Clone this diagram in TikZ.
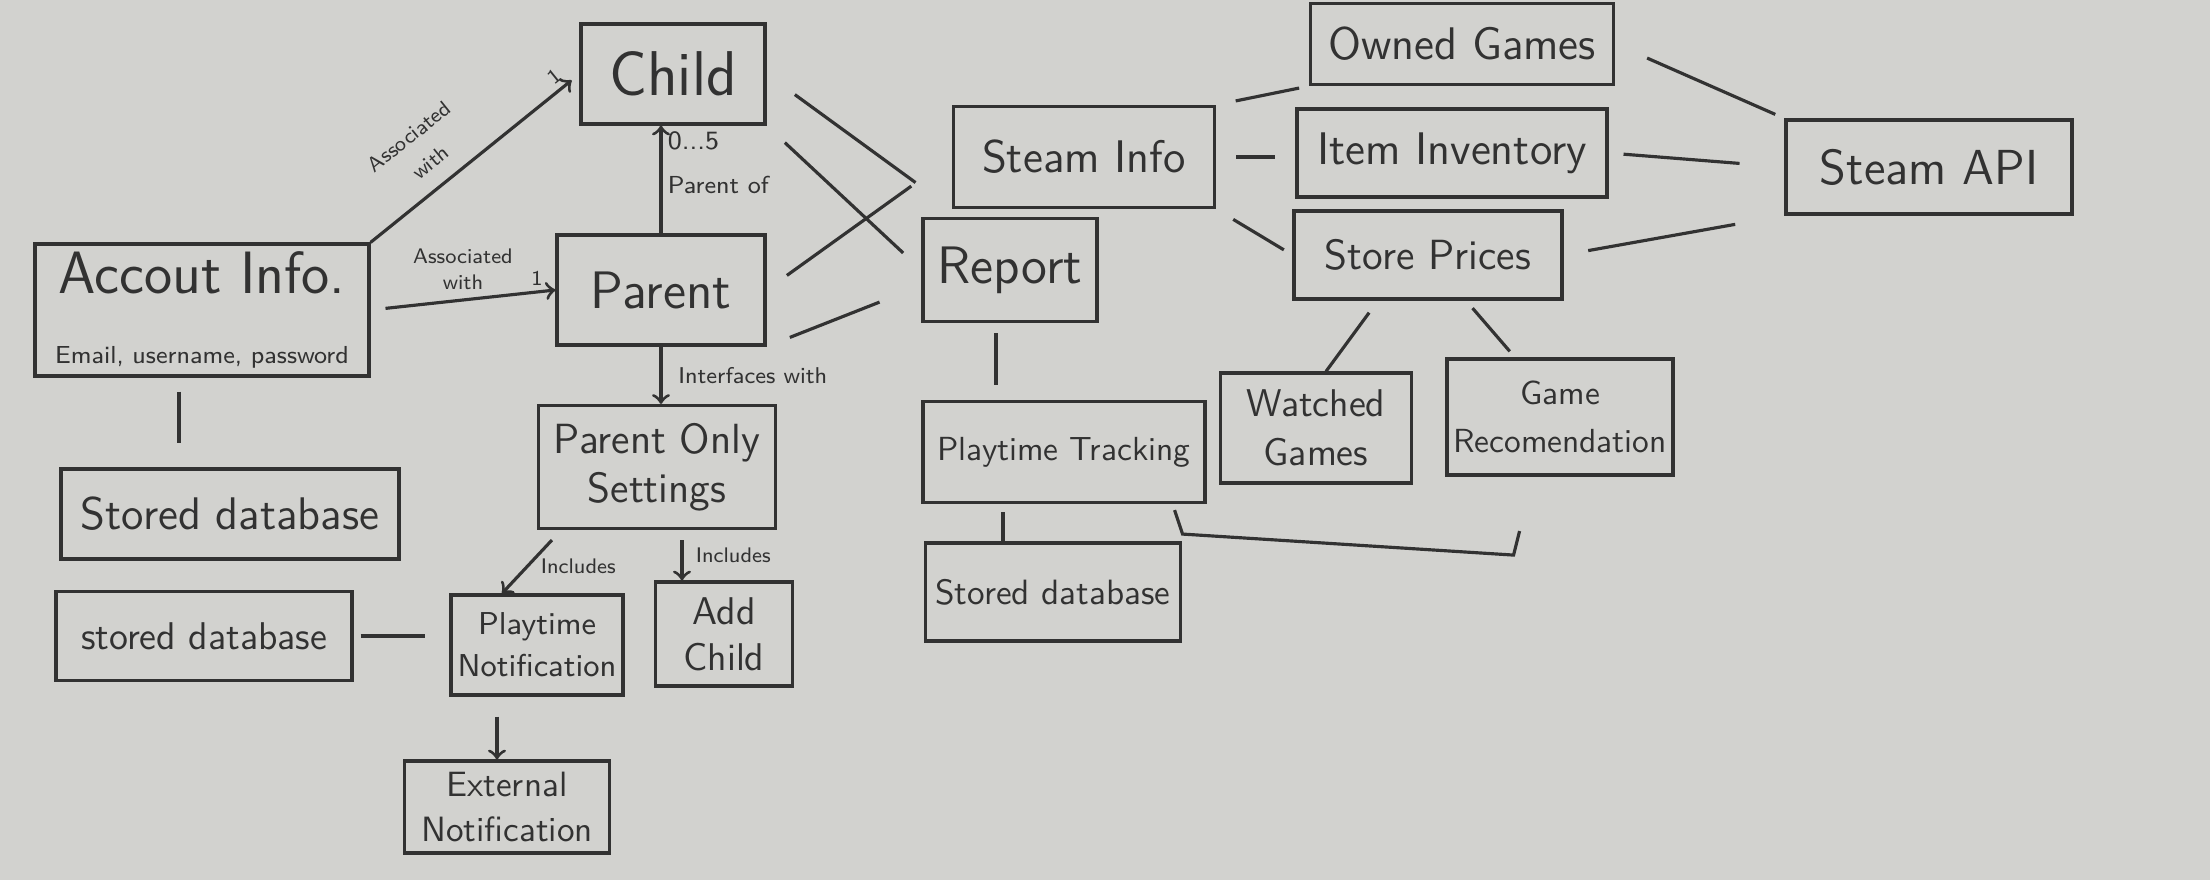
\documentclass[tikz,border=0pt]{standalone}
\definecolor{board}{RGB}{210,210,207}
\definecolor{ink}{RGB}{50,50,50}
\newcommand{\fs}[1]{\fontsize{#1}{#1}\selectfont}

\begin{document}
\begin{tikzpicture}[
    box/.style={draw=ink, line width=0.9pt, text=ink, align=center, inner sep=0pt},
    link/.style={draw=ink, line width=0.9pt},
    lbl/.style={text=ink, font=\sffamily\fontsize{6}{7.5}\selectfont, align=center, inner sep=1.5pt}
]
\fill[board] (0,0) rectangle (22.1,8.8);

% left part: accounts and settings
\node[box, minimum width=1.84cm, minimum height=1.0cm, font=\sffamily\fs{18}] (child) at (6.73,8.06) {Child};
\node[box, minimum width=3.34cm, minimum height=1.32cm, font=\sffamily\fs{17}] (acct) at (2.02,5.70) {Accout Info.\\[3pt]{\fs{7}Email, username, password}};
\node[box, minimum width=2.08cm, minimum height=1.1cm, font=\sffamily\fs{15}] (parent) at (6.61,5.90) {Parent};
\node[box, minimum width=3.38cm, minimum height=0.9cm, font=\sffamily\fs{13}] (dbleft) at (2.30,3.66) {Stored database};
\node[box, minimum width=2.37cm, minimum height=1.23cm, font=\sffamily\fs{12}] (settings) at (6.57,4.13) {Parent Only\\[2pt]Settings};
\node[box, minimum width=2.96cm, minimum height=0.89cm, font=\sffamily\fs{11}] (dbsmall) at (2.04,2.44) {stored database};
\node[box, minimum width=1.72cm, minimum height=1.0cm, font=\sffamily\fs{9}] (notif) at (5.37,2.35) {Playtime\\[3pt]Notification};
\node[box, minimum width=1.37cm, minimum height=1.04cm, font=\sffamily\fs{11}] (addchild) at (7.24,2.46) {Add\\[2pt]Child};
\node[box, minimum width=2.05cm, minimum height=0.92cm, font=\sffamily\fs{10}] (ext) at (5.07,0.73) {External\\[3pt]Notification};

% right part: report and steam data
\node[box, minimum width=2.61cm, minimum height=1.01cm, font=\sffamily\fs{13}] (steam) at (10.84,7.23) {Steam Info};
\node[box, minimum width=1.74cm, minimum height=1.03cm, font=\sffamily\fs{15}] (report) at (10.10,6.10) {Report};
\node[box, minimum width=2.82cm, minimum height=1.01cm, font=\sffamily\fs{9.5}] (track) at (10.64,4.28) {Playtime Tracking};
\node[box, minimum width=2.55cm, minimum height=0.98cm, font=\sffamily\fs{10}] (dbright) at (10.53,2.88) {Stored database};
\node[box, minimum width=3.03cm, minimum height=0.81cm, font=\sffamily\fs{13}] (owned) at (14.62,8.36) {Owned Games};
\node[box, minimum width=3.10cm, minimum height=0.88cm, font=\sffamily\fs{13}] (item) at (14.52,7.27) {Item Inventory};
\node[box, minimum width=2.68cm, minimum height=0.88cm, font=\sffamily\fs{12}] (store) at (14.28,6.25) {Store Prices};
\node[box, minimum width=2.86cm, minimum height=0.94cm, font=\sffamily\fs{14}] (api) at (19.29,7.13) {Steam API};
\node[box, minimum width=1.91cm, minimum height=1.10cm, font=\sffamily\fs{11}] (watched) at (13.16,4.52) {Watched\\[3pt]Games};
\node[box, minimum width=2.26cm, minimum height=1.16cm, font=\sffamily\fs{9.5}] (reco) at (15.60,4.63) {Game\\[4pt]Recomendation};

\draw[link, ->, shorten >=1mm] (acct.north east) -- (child.west)
    node[lbl, pos=0.36, above=3pt, sloped, font=\sffamily\fontsize{6}{9.5}\selectfont] {Associated\\with}
    node[lbl, pos=0.92, above, sloped] {1};
\draw[link, ->, shorten <=1.5mm] (acct.east) -- (parent.west)
    node[lbl, midway, above=1pt] {Associated\\with}
    node[lbl, pos=0.9, above] {1};
\draw[link, ->] (parent.north) -- (parent.north |- child.south)
    node[lbl, pos=0.86, right, font=\sffamily\fs{7.5}] {0...5}
    node[lbl, pos=0.45, right, font=\sffamily\fs{7}] {Parent of};
\draw[link, ->] (parent.south) -- (parent.south |- settings.north)
    node[lbl, midway, right=3pt, font=\sffamily\fs{6.5}] {Interfaces with};
\draw[link, ->] ([xshift=1.5mm, yshift=-1mm]settings.south west) -- ([xshift=-3.5mm]notif.north)
    node[lbl, midway, right=2pt] {Includes};
\draw[link, ->, shorten <=1mm] ([xshift=2.5mm]settings.south) -- ([xshift=2.5mm]settings.south |- addchild.north)
    node[lbl, midway, right=2pt] {Includes};
\draw[link, ->, shorten <=2mm] ([xshift=-4mm]notif.south) -- ([xshift=-4mm]notif.south |- ext.north);
\draw[link, shorten <=0.7mm, shorten >=2.4mm] (dbsmall.east) -- (dbsmall.east -| notif.west);
\draw[link, shorten <=1.4mm, shorten >=2.4mm] ([xshift=-2.3mm]acct.south) -- ([xshift=-2.3mm]acct.south |- dbleft.north);

\draw[link, shorten <=3.5mm, shorten >=4.5mm] (child.east) -- (steam.south west);
\draw[link, shorten <=2.5mm, shorten >=2.5mm] (child.south east) -- (report.west);
\draw[link, shorten <=2.5mm, shorten >=5mm] (parent.east) -- (steam.west);
\draw[link, shorten <=2.5mm, shorten >=4.5mm] (parent.south east) -- (report.190);
\draw[link, shorten <=1mm, shorten >=1.5mm] ([xshift=-1.4mm]report.south) -- ([xshift=-1.4mm]report.south |- track.north);
\draw[link, shorten <=0.8mm] ([xshift=-5mm]dbright.north |- track.south) -- ([xshift=-5mm]dbright.north);

\draw[link, shorten <=2mm, shorten >=1mm] (steam.north east) -- (owned.south west);
\draw[link, shorten <=2mm, shorten >=2mm] (steam.east) -- (steam.east -| item.west);
\draw[link, shorten <=2mm, shorten >=1mm] (steam.south east) -- (store.west);
\draw[link, shorten <=3.5mm, shorten >=1mm] (owned.east) -- (api.north west);
\draw[link, shorten <=1.5mm, shorten >=4.5mm] (item.east) -- (api.west);
\draw[link, shorten <=2.5mm, shorten >=5mm] (store.east) -- (api.south west);
\draw[link, shorten <=1.5mm] ([xshift=-5mm]store.south) -- ([xshift=1mm]watched.north);
\draw[link, shorten <=1mm, shorten >=0.8mm] ([xshift=3.8mm]store.south) -- ([xshift=-4.5mm]reco.north);

% bracket under the tracking group
\draw[link] ([xshift=-3.2mm, yshift=-0.6mm]track.south east) -- ++(0.08,-0.24) -- ++(3.31,-0.21) -- ++(0.06,0.24);

\end{tikzpicture}
\end{document}
